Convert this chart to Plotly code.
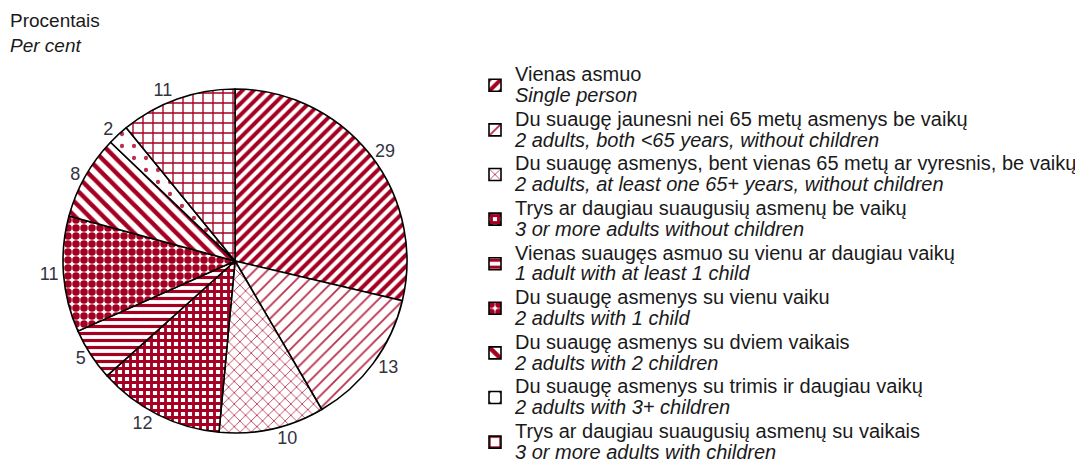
import plotly.graph_objects as go

lt_labels = [
    "Vienas asmuo",
    "Du suaugę jaunesni nei 65 metų asmenys be vaikų",
    "Du suaugę asmenys, bent vienas 65 metų ar vyresnis, be vaikų",
    "Trys ar daugiau suaugusių asmenų be vaikų",
    "Vienas suaugęs asmuo su vienu ar daugiau vaikų",
    "Du suaugę asmenys su vienu vaiku",
    "Du suaugę asmenys su dviem vaikais",
    "Du suaugę asmenys su trimis ir daugiau vaikų",
    "Trys ar daugiau suaugusių asmenų su vaikais",
]
en_labels = [
    "Single person",
    "2 adults, both <65 years, without children",
    "2 adults, at least one 65+ years, without children",
    "3 or more adults without children",
    "1 adult with at least 1 child",
    "2 adults with 1 child",
    "2 adults with 2 children",
    "2 adults with 3+ children",
    "3 or more adults with children",
]
values = [29, 13, 10, 12, 5, 11, 8, 2, 11]

RED = "#A50021"
shapes = ["/", "/", "x", "+", "-", ".", "\\", ".", "+"]
sizes = [8, 9, 8, 7, 7, 8, 10, 12, 10]
solids = [0.5, 0.2, 0.2, 0.65, 0.45, 0.7, 0.45, 0.1, 0.25]
fgcols = [RED, "#b8304e", "#b8304e", RED, RED, RED, RED, "#b8304e", RED]

legend_text = [
    f'<span style="font-size:20px">{a}<br><i>{b}</i></span>'
    for a, b in zip(lt_labels, en_labels)
]

CX, CY, R = 227, 209, 172  # figure px (x from left, y from bottom)

fig = go.Figure(
    go.Pie(
        labels=legend_text,
        values=values,
        sort=False,
        direction="clockwise",
        rotation=0,
        text=[str(v) for v in values],
        textinfo="text",
        textposition="outside",
        outsidetextfont=dict(size=18, color="#333340", family="Liberation Sans"),
        marker=dict(
            colors=["white"] * len(values),
            line=dict(color="black", width=1.6),
            pattern=dict(
                shape=shapes,
                size=sizes,
                solidity=solids,
                fgcolor=fgcols,
                fgopacity=1,
                bgcolor="white",
                fillmode="overlay",
            ),
        ),
        domain=dict(x=[(CX - R) / 1083, (CX + R) / 1083],
                    y=[(CY - R) / 462, (CY + R) / 462]),
        hoverinfo="skip",
    )
)

fig.update_layout(
    width=1083,
    height=462,
    margin=dict(l=0, r=0, t=0, b=0),
    paper_bgcolor="white",
    plot_bgcolor="white",
    font=dict(family="Liberation Sans", color="#1a1a1a", size=16),
    showlegend=True,
    legend=dict(
        x=467 / 1083,
        xanchor="left",
        y=1 - 62 / 462,
        yanchor="top",
        font=dict(size=16, color="#1a1a1a", family="Liberation Sans"),
        bgcolor="rgba(0,0,0,0)",
        traceorder="normal",
    ),
    annotations=[
        dict(
            text="Procentais<br><i>Per cent</i>",
            x=0, y=1,
            xref="paper", yref="paper",
            xanchor="left", yanchor="top",
            align="left", showarrow=False,
            font=dict(size=19, color="#1a1a1a", family="Liberation Sans"),
        )
    ],
)

fig.write_html("out.html")
